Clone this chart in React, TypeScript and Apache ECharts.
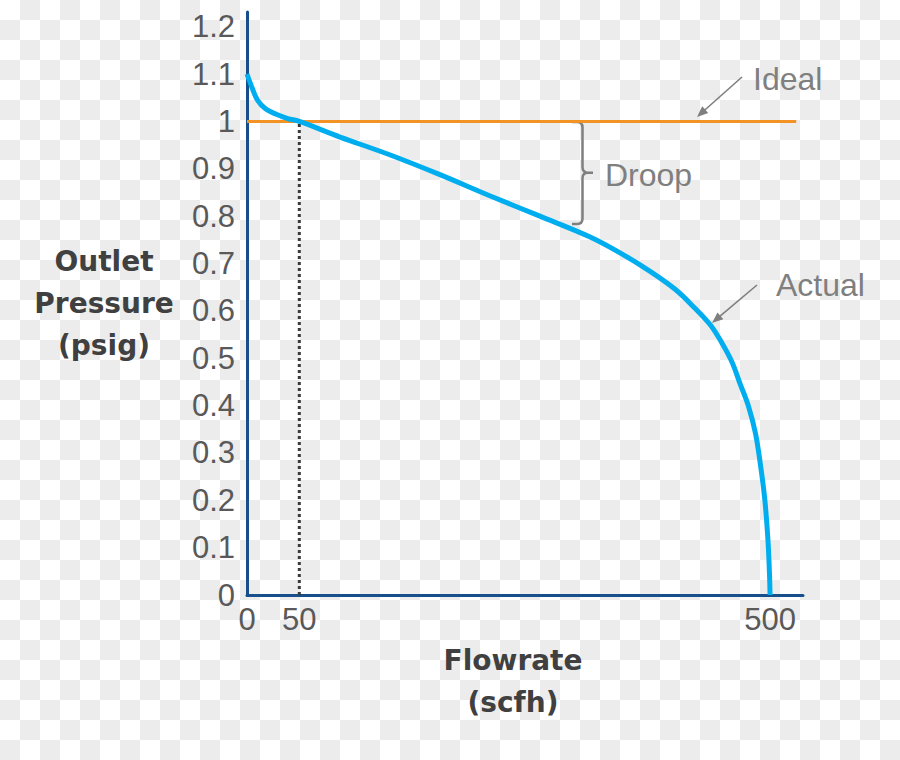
import React, { useEffect, useRef } from "react";
import * as echarts from "echarts";

// ---- data ----
const flowrate = [0, 5, 10, 18, 28, 39, 50, 89, 137, 185, 232, 280, 328, 357, 385, 409, 428, 443, 454, 464, 471, 479, 486, 491, 495, 498, 499.5, 500];
const pressure = [1.1, 1.07, 1.045, 1.026, 1.015, 1.006, 1.0, 0.967, 0.929, 0.887, 0.843, 0.8, 0.756, 0.722, 0.684, 0.646, 0.606, 0.57, 0.532, 0.49, 0.448, 0.401, 0.342, 0.272, 0.201, 0.116, 0.042, 0];
const idealFlow = [0, 525];
const idealPressure = [1, 1];
const setpointFlow = [50, 50];
const setpointPressure = [0, 1];
const xTickValues = [0, 50, 500];
const yTickStep = 0.1;

echarts.graphic.registerShape(
  "droopBracket",
  echarts.graphic.extendPath(
    "M0,0 L5,0 Q10.5,0 10.5,5.5 L10.5,45 Q10.5,50.7 16,50.7 L21,50.7 M16,50.7 Q10.5,50.7 10.5,56 L10.5,96.5 Q10.5,102 5,102 L0,102",
    {}
  )
);

const GREY = "#7f7f7f";

const checker =
  "url(\"data:image/svg+xml;utf8,<svg xmlns='http://www.w3.org/2000/svg' width='40' height='40'><rect width='40' height='40' fill='white'/><rect x='20' y='0' width='20' height='20' fill='%23ececec'/><rect x='0' y='20' width='20' height='20' fill='%23ececec'/></svg>\")";

function arrow(x1: number, y1: number, x2: number, y2: number) {
  const dx = x2 - x1;
  const dy = y2 - y1;
  const len = Math.sqrt(dx * dx + dy * dy);
  const ux = dx / len;
  const uy = dy / len;
  const hl = 11;
  const hw = 4.5;
  const bx = x2 - ux * hl;
  const by = y2 - uy * hl;
  return [
    {
      type: "line",
      shape: { x1, y1, x2: bx + ux * 2, y2: by + uy * 2 },
      style: { stroke: GREY, lineWidth: 1.6 },
    },
    {
      type: "polygon",
      shape: {
        points: [
          [x2, y2],
          [bx - uy * hw, by + ux * hw],
          [bx + uy * hw, by - ux * hw],
        ],
      },
      style: { fill: GREY },
    },
  ];
}

export default function App() {
  const ref = useRef<HTMLDivElement>(null);

  useEffect(() => {
    if (!ref.current) return;
    const chart = echarts.init(ref.current, null, { renderer: "svg" });
    const labelFont = "Liberation Sans";
    const titleStyle = {
      fontFamily: "DejaVu Sans",
      fontWeight: "bold" as const,
      fontSize: 28,
      color: "#404040",
      lineHeight: 42,
    };
    chart.setOption({
      animation: false,
      backgroundColor: "transparent",
      grid: { left: 247, top: 12, right: 97, bottom: 165, containLabel: false, outerBoundsMode: "none" },
      xAxis: {
        type: "value",
        min: 0,
        max: 531.5,
        name: "Flowrate\n(scfh)",
        nameLocation: "middle",
        nameGap: 44,
        nameTextStyle: { ...titleStyle, align: "center", verticalAlign: "top", padding: [0, 24, 0, 0] },
        axisLine: { show: true, lineStyle: { color: "#174e8c", width: 3 } },
        axisTick: { show: false },
        splitLine: { show: false },
        axisLabel: {
          customValues: xTickValues,
          fontFamily: labelFont,
          fontSize: 31,
          color: "#595959",
          margin: 9,
          showMinLabel: true,
          showMaxLabel: true,
        },
      },
      yAxis: {
        type: "value",
        min: 0,
        max: 1.231,
        interval: yTickStep,
        name: "Outlet\nPressure\n(psig)",
        nameLocation: "middle",
        nameRotate: 0,
        nameGap: 143,
        nameTextStyle: { ...titleStyle, align: "center", verticalAlign: "middle" },
        axisLine: { show: true, lineStyle: { color: "#174e8c", width: 3 } },
        axisTick: { show: false },
        splitLine: { show: false },
        axisLabel: {
          fontFamily: labelFont,
          fontSize: 31,
          color: "#595959",
          margin: 12,
          showMaxLabel: false,
          formatter: (v: number) =>
            Math.abs(v / yTickStep - Math.round(v / yTickStep)) < 1e-6 ? String(+v.toFixed(1)) : "",
        },
      },
      series: [
        {
          type: "line",
          name: "Setpoint",
          data: setpointFlow.map((x, i) => [x, setpointPressure[i]]),
          symbol: "none",
          lineStyle: { color: "#3a3a3a", width: 3, type: [3, 3] },
          z: 1,
        },
        {
          type: "line",
          name: "Ideal",
          data: idealFlow.map((x, i) => [x, idealPressure[i]]),
          symbol: "none",
          lineStyle: { color: "#f39325", width: 3 },
          z: 2,
        },
        {
          type: "line",
          name: "Actual",
          data: flowrate.map((x, i) => [x, pressure[i]]),
          symbol: "none",
          smooth: 0.35,
          lineStyle: { color: "#00aeef", width: 5 },
          z: 3,
        },
      ],
      graphic: [
        {
          type: "droopBracket",
          x: 572,
          y: 122,
          style: { stroke: GREY, lineWidth: 2.5, fill: "none" },
        },
        {
          type: "text",
          x: 605,
          y: 175,
          style: { text: "Droop", fontSize: 32, fontFamily: labelFont, fill: GREY, align: "left", verticalAlign: "middle" },
        },
        {
          type: "text",
          x: 753,
          y: 79,
          style: { text: "Ideal", fontSize: 32, fontFamily: labelFont, fill: GREY, align: "left", verticalAlign: "middle" },
        },
        {
          type: "text",
          x: 776,
          y: 285,
          style: { text: "Actual", fontSize: 32, fontFamily: labelFont, fill: GREY, align: "left", verticalAlign: "middle" },
        },
        ...arrow(742, 77, 697, 117),
        ...arrow(757, 285, 712, 323),
      ],
    });
    return () => chart.dispose();
  }, []);

  return (
    <div
      style={{
        position: "absolute",
        left: 0,
        top: 0,
        width: 900,
        height: 760,
        backgroundColor: "#ffffff",
        backgroundImage: checker,
        backgroundSize: "40px 40px",
        backgroundRepeat: "repeat",
      }}
    >
      <div ref={ref} style={{ width: 900, height: 760 }} />
    </div>
  );
}
